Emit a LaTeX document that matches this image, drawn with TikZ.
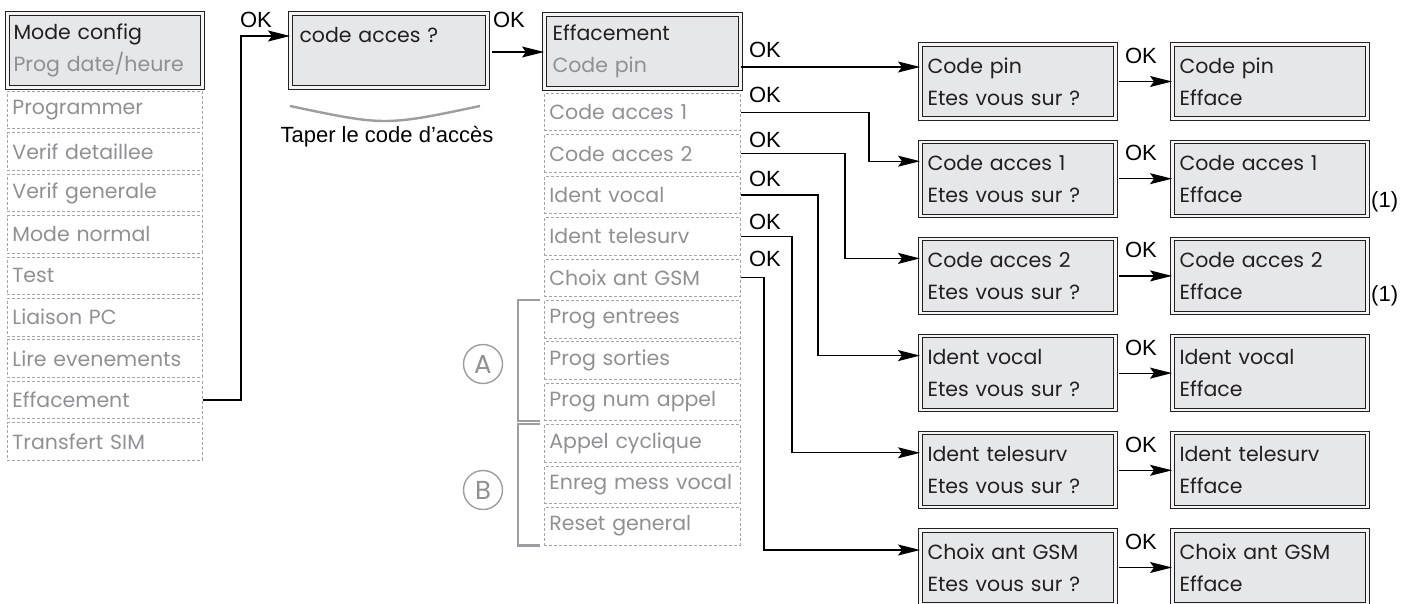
\documentclass[tikz,border=0pt]{standalone}
\usepackage{fontspec}
\usetikzlibrary{arrows.meta}
\newfontfamily\fut{Poppins}
\newfontfamily\lib{Liberation Sans}
\definecolor{boxfill}{HTML}{E6E7E8}
\definecolor{dark}{HTML}{231F20}
\definecolor{tgray}{HTML}{8E9093}
\definecolor{dgray}{HTML}{A3A5A8}
\definecolor{bgray}{HTML}{9B9DA0}
\tikzset{
  dbox/.style={draw=dark, double=white!60!boxfill, double distance=2.2pt, line width=1pt, fill=boxfill,
    minimum height=74pt, inner xsep=7pt, inner ysep=0pt, align=left, anchor=north west,
    font=\fut\fontsize{20.5}{32}\selectfont, text=dark},
  dashbox/.style={draw=dgray, dash pattern=on 3pt off 2pt, line width=0.8pt,
    minimum height=37.5pt, inner xsep=5pt, inner ysep=0pt, align=left, anchor=north west,
    text width=185pt, font=\fut\fontsize{20.5}{22}\selectfont, text=tgray},
  arr/.style={draw=black, line width=1.2pt, -{Stealth[length=22pt,width=11pt,inset=4pt]}},
  brk/.style={draw=bgray, line width=2.4pt},
  garc/.style={draw=bgray, line width=2.4pt},
  oklab/.style={font=\lib\fontsize{22}{22}\selectfont, inner sep=0pt, text=black},
  circ/.style={circle, draw=bgray, line width=1.4pt, minimum size=39pt, inner sep=0pt,
    font=\fut\fontsize{26}{26}\selectfont, text=tgray},
}
\begin{document}
\begin{tikzpicture}[x=1pt,y=-1pt]
\useasboundingbox (0,0) rectangle (1415,604);

% left column
\node[dbox, text width=183pt, inner xsep=6pt] (l0) at (7,13) {Mode config\\{\color{tgray}Prog date/heure}};
\foreach \t [count=\i] in {Programmer, Verif detaillee, Verif generale, Mode normal, Test,
  Liaison PC, Lire evenements, Effacement, Transfert SIM}
  \node[dashbox] (l\i) at (7,{91+41.4*(\i-1)}) {\t};

% code box
\node[dbox, text width=179pt, inner xsep=9pt] (code) at (290,13) {code acces ?\\\mbox{}};
\draw[garc] (290,106) .. controls (385,126) .. (480,106);
\node[oklab] (tap) at (387,137) {Taper le code d’accès};

% middle column
\node[dbox, text width=180pt, inner xsep=8pt] (m0) at (544,14) {Effacement\\{\color{tgray}Code pin}};
\foreach \t [count=\i] in {Code acces 1, Code acces 2, Ident vocal, Ident telesurv, Choix ant GSM,
  Prog entrees, Prog sorties, Prog num appel, Appel cyclique, Enreg mess vocal, Reset general}
  \node[dashbox, text width=186pt] (m\i) at (544,{93+41.4*(\i-1)}) {\t};

% brackets and circles
\draw[brk] ([xshift=-4pt]m6.north west) -| ([xshift=-26pt]m8.south west) -- ([xshift=-4pt]m8.south west);
\draw[brk] ([xshift=-4pt]m9.north west) -| ([xshift=-26pt]m11.south west) -- ([xshift=-4pt]m11.south west);
\node[circ] (cA) at (483,364) {A};
\node[circ] (cB) at (483,490) {B};

% right columns
\foreach \t [count=\i from 0] in {Code pin, Code acces 1, Code acces 2, Ident vocal, Ident telesurv, Choix ant GSM}{
  \node[dbox, text width=181pt] (c\i) at (920,{44+97.2*\i}) {\t\\Etes vous sur ?};
  \node[dbox, text width=181pt] (e\i) at (1172,{44+97.2*\i}) {\t\\Efface};
  \draw[arr] (c\i.east) ++(3,0) -- (e\i.west);
  \node[oklab] (ok\i) at (1141,{56+97.2*\i}) {OK};
}
\node[oklab, anchor=west] (n1) at ([xshift=3pt,yshift=14pt]e1.south east) {(1)};
\node[oklab, anchor=west] (n2) at ([xshift=3pt,yshift=18pt]e2.south east) {(1)};

% connectors
\coordinate (vL) at (241,0);
\coordinate (pL) at ([yshift=-23pt]code.north west);
\draw[arr] (l8.east) -- (l8.east -| vL) |- (pL);
\node[oklab] (okL) at (256,20) {OK};

\coordinate (pM) at ([yshift=-38pt]m0.north west);
\draw[arr] (pM -| code.east) ++(4,0) -- (pM);
\node[oklab] (okM) at (509,20) {OK};

\coordinate (p0) at ([yshift=-23pt]c0.north west);
\draw[arr] (p0 -| m0.east) -- (p0);
\node[oklab] (okr0) at (765,50) {OK};

\foreach \i/\vx/\oy in {1/869/95, 2/845/140, 3/818/179, 4/792/222, 5/764/259}{
  \coordinate (v\i) at (\vx,0);
  \draw[arr] (m\i.east) -- (m\i.east -| v\i) |- ([yshift=-20pt]c\i.north west);
  \node[oklab] (okr\i) at (765,\oy) {OK};
}
\end{tikzpicture}
\end{document}
